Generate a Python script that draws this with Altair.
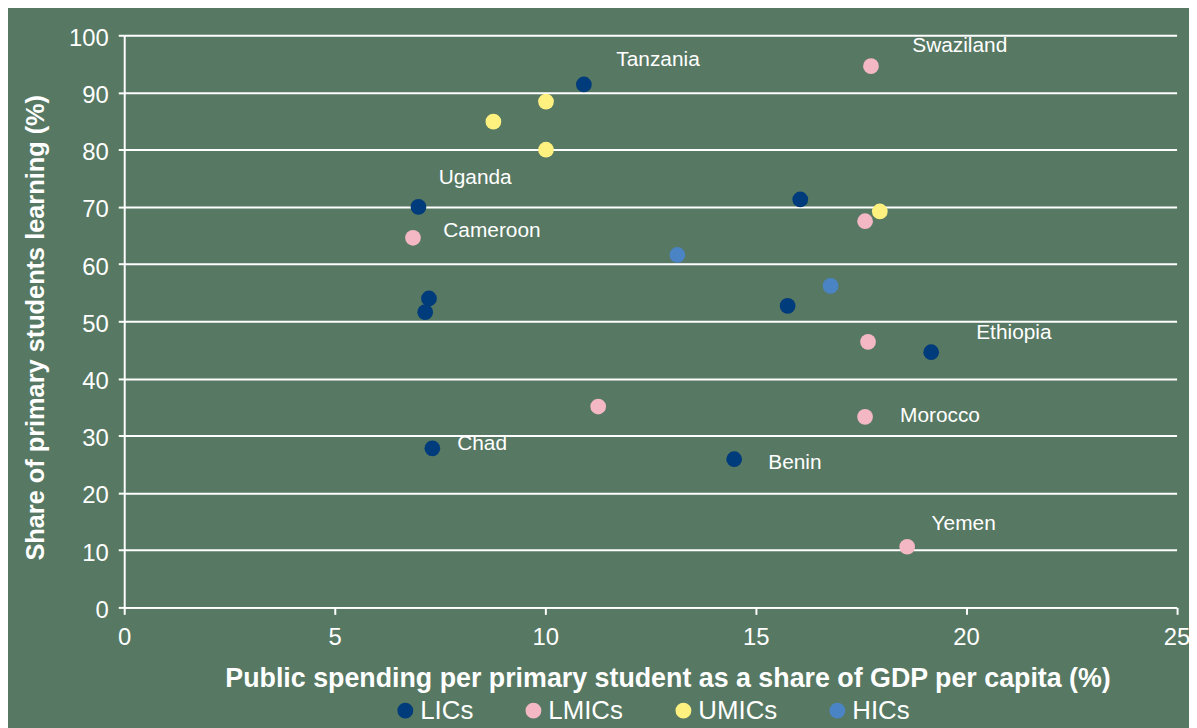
import altair as alt
import pandas as pd

groups = ["LICs", "LMICs", "UMICs", "HICs"]
colors = ["#003B7B", "#F4B8C5", "#FFF180", "#4A84C4"]

lic_x = [10.92, 6.99, 16.06, 7.24, 7.15, 15.76, 19.17, 7.32, 14.49]
lic_y = [91.4, 70.0, 71.3, 54.0, 51.6, 52.7, 44.6, 27.8, 25.9]
lmic_x = [17.74, 17.60, 6.86, 17.67, 11.26, 17.60, 18.60]
lmic_y = [94.6, 67.5, 64.6, 46.4, 35.1, 33.3, 10.6]
umic_x = [8.77, 10.02, 10.02, 17.95]
umic_y = [84.9, 88.4, 80.0, 69.2]
hic_x = [13.14, 16.78]
hic_y = [61.6, 56.2]

label_names = ["Tanzania", "Swaziland", "Uganda", "Cameroon", "Ethiopia",
               "Morocco", "Chad", "Benin", "Yemen"]
label_x = [11.69, 18.72, 7.47, 7.58, 20.24, 18.43, 7.91, 15.30, 19.18]
label_y = [95.7, 98.1, 75.1, 65.8, 47.9, 33.5, 28.5, 25.2, 14.6]

x_ticks = [0, 5, 10, 15, 20, 25]
y_ticks = [0, 10, 20, 30, 40, 50, 60, 70, 80, 90, 100]

rows = []
for g, xs, ys in zip(groups, [lic_x, lmic_x, umic_x, hic_x], [lic_y, lmic_y, umic_y, hic_y]):
    for xv, yv in zip(xs, ys):
        rows.append({"group": g, "x": xv, "y": yv})
df = pd.DataFrame(rows)
labels_df = pd.DataFrame({"name": label_names, "x": label_x, "y": label_y})

FONT = "Liberation Sans"
WHITE = "#FFFFFF"

x_enc = alt.X(
    "x:Q",
    scale=alt.Scale(domain=[0, 25], nice=False, zero=False),
    axis=alt.Axis(
        values=x_ticks, grid=False, format="d",
        title="Public spending per primary student as a share of GDP per capita (%)",
        titleFont=FONT, titleFontSize=27, titleFontWeight="bold", titleColor=WHITE,
        titleX=547, titleY=72, titleBaseline="middle", titleAlign="center",
        labelFont=FONT, labelFontSize=24, labelColor=WHITE, labelPadding=11,
        domainColor=WHITE, domainWidth=2, tickColor=WHITE, tickWidth=2, tickSize=7,
        labelFlush=False,
    ),
)
y_enc = alt.Y(
    "y:Q",
    scale=alt.Scale(domain=[0, 100], nice=False),
    axis=alt.Axis(
        values=y_ticks, grid=True, gridColor=WHITE, gridWidth=2, gridOpacity=1,
        title="Share of primary students learning (%)",
        titleFont=FONT, titleFontSize=25.5, titleFontWeight="bold", titleColor=WHITE,
        titleX=-89, titleY=294, titleBaseline="middle", titleAlign="center", titleAngle=270,
        labelFont=FONT, labelFontSize=24, labelColor=WHITE, labelPadding=10,
        labelOffset=3,
        domainColor=WHITE, domainWidth=2, tickColor=WHITE, tickWidth=2, tickSize=6,
        labelFlush=False,
    ),
)

points = alt.Chart(df).mark_circle(size=250, opacity=1).encode(
    x=x_enc,
    y=y_enc,
    color=alt.Color(
        "group:N",
        scale=alt.Scale(domain=groups, range=colors),
        legend=alt.Legend(
            orient="none", legendX=270, legendY=667, direction="horizontal",
            title=None, symbolType="circle", symbolSize=254, symbolStrokeWidth=0,
            symbolOpacity=1, labelFont=FONT, labelFontSize=26, labelColor=WHITE,
            columnPadding=47, labelOffset=2, padding=0,
        ),
    ),
)

texts = alt.Chart(labels_df).mark_text(
    align="left", baseline="middle", fontSize=21, font=FONT, color=WHITE
).encode(x=x_enc, y=y_enc, text="name:N")

chart = (
    alt.layer(points, texts)
    .properties(
        width=1059.5, height=576,
        autosize=alt.AutoSizeParams(type="none"),
        padding={"left": 117, "top": 25, "right": 12.5, "bottom": 119},
        background="#577863",
    )
    .configure_view(stroke=None)
)

chart.save("out.html", embed_options={"renderer": "svg", "actions": False})
